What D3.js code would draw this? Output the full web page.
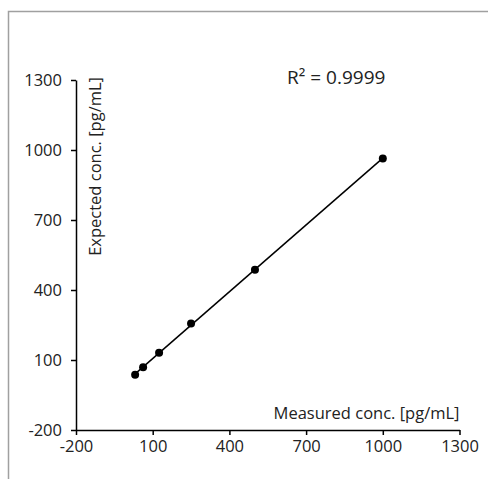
<!DOCTYPE html>
<html>
<head>
<meta charset="utf-8">
<script src="https://cdn.jsdelivr.net/npm/d3@7"></script>
<style>
  body { margin: 0; background: #fff; }
  text { font-family: "Open Sans", sans-serif; fill: #222; }
</style>
</head>
<body>
<svg width="488" height="479"></svg>
<script>
// measured vs expected concentrations (pg/mL)
const measured = [31.25, 62.5, 125, 250, 500, 1000];
const expected = [37, 69, 131, 256, 487, 964];
const tickValues = [-200, 100, 400, 700, 1000, 1300];
const r2Label = "R\u00b2 = 0.9999";

const svg = d3.select("svg");

// chart frame (runs off the right and bottom edge)
svg.append("rect")
   .attr("x", 8.5).attr("y", 11.5)
   .attr("width", 500).attr("height", 500)
   .attr("fill", "none")
   .attr("stroke", "#a0a0a0")
   .attr("stroke-width", 1.5);

const x = d3.scaleLinear().domain([-200, 1300]).range([76, 459.5]);
const y = d3.scaleLinear().domain([-200, 1300]).range([430, 80]);
const fmt = d => String(d);

// x axis
const xAxis = svg.append("g")
   .attr("transform", `translate(0,${y(-200)})`)
   .call(d3.axisBottom(x).tickValues(tickValues).tickFormat(fmt).tickSize(5).tickSizeOuter(0).tickPadding(5));
// y axis
const yAxis = svg.append("g")
   .attr("transform", `translate(${x(-200)},0)`)
   .call(d3.axisLeft(y).tickValues(tickValues).tickFormat(fmt).tickSize(5).tickSizeOuter(0).tickPadding(9));

[xAxis, yAxis].forEach(g => {
  g.select(".domain").attr("stroke", "#000").attr("stroke-width", 1.5);
  g.selectAll(".tick line").attr("stroke", "#000").attr("stroke-width", 1.5);
  g.selectAll(".tick text").attr("font-size", 16.5).attr("fill", "#222")
   .style("font-family", "'Open Sans', sans-serif");
});
yAxis.selectAll(".tick text").attr("dy", "0.34em");

// linear trendline (least squares), spanning the measured range
const mx = d3.mean(measured), my = d3.mean(expected);
const slope = d3.sum(measured, (v, i) => (v - mx) * (expected[i] - my)) /
              d3.sum(measured, v => (v - mx) * (v - mx));
const icpt = my - slope * mx;
const ext = d3.extent(measured);
svg.append("line")
   .attr("x1", x(ext[0])).attr("y1", y(icpt + slope * ext[0]))
   .attr("x2", x(ext[1])).attr("y2", y(icpt + slope * ext[1]))
   .attr("stroke", "#000")
   .attr("stroke-width", 1.5);

// points
svg.selectAll(".pt")
   .data(measured)
   .enter()
   .append("circle")
   .attr("class", "pt")
   .attr("cx", d => x(d))
   .attr("cy", (d, i) => y(expected[i]))
   .attr("r", 4)
   .attr("fill", "#000");

// axis titles
svg.append("text")
   .attr("x", x(1300)).attr("y", 419)
   .attr("text-anchor", "end")
   .attr("font-size", 16.5)
   .text("Measured conc. [pg/mL]");

svg.append("text")
   .attr("transform", `translate(${x(-200) + 25},${y(1300) - 3}) rotate(-90)`)
   .attr("text-anchor", "end")
   .attr("font-size", 16.5)
   .text("Expected conc. [pg/mL]");

// R² label
svg.append("text")
   .attr("x", 287).attr("y", 84)
   .attr("font-size", 19)
   .text(r2Label);
</script>
</body>
</html>
